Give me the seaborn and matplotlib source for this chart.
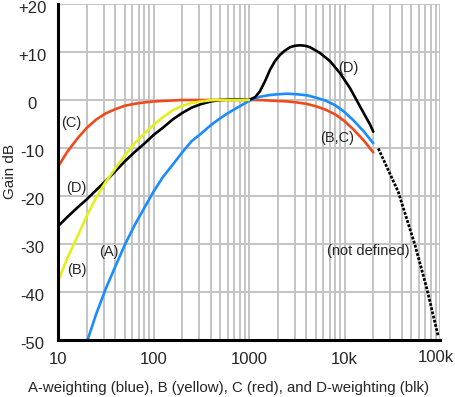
import seaborn as sns
import matplotlib
matplotlib.use("Agg")
import matplotlib.pyplot as plt
from matplotlib.ticker import FixedLocator, NullFormatter
from matplotlib.transforms import ScaledTranslation

# third-octave centre frequencies (Hz)
freq = [10, 12.5, 16, 20, 25, 31.5, 40, 50, 63, 80, 100, 125, 160, 200, 250,
        315, 400, 500, 630, 800, 1000, 1250, 1600, 2000, 2500, 3150, 4000,
        5000, 6300, 8000, 10000, 12500, 16000, 20000]

# A-weighting starts at 20 Hz (below -50 dB before that)
a_freq = freq[3:]
a_gain = [-50.5, -44.7, -39.4, -34.6, -30.2, -26.2, -22.5, -19.1, -16.1, -13.4,
          -10.9, -8.6, -7.0, -5.2, -3.8, -2.5, -1.3, -0.2, 0.6, 1.0, 1.2, 1.3,
          1.2, 1.0, 0.5, -0.1, -1.1, -2.5, -4.3, -6.6, -9.0]

# B-weighting only visible up to 1 kHz (hidden under C above)
b_freq = freq[:21]
b_gain = [-37.8, -33.0, -28.4, -24.2, -20.4, -17.1, -14.2, -11.6, -9.1, -7.0,
          -5.2, -3.6, -2.1, -1.2, -0.65, -0.3, -0.05, 0.0, 0.0, 0.0, 0.0]

c_gain = [-13.9, -10.8, -8.0, -5.8, -4.1, -2.8, -1.9, -1.2, -0.8, -0.5, -0.3,
          -0.2, -0.1, 0.0, 0.0, 0.0, 0.0, 0.0, 0.0, 0.0, 0.0, 0.0, -0.1, -0.2,
          -0.3, -0.5, -0.8, -1.3, -2.0, -3.0, -4.4, -6.2, -8.5, -10.9]

# D-weighting, read more densely around the 3 kHz hump
d_freq = [10, 12.5, 16, 20, 25, 31.5, 40, 50, 63, 80, 100, 125, 160, 200, 250,
          315, 400, 500, 630, 800, 1000, 1160, 1300, 1470, 1660, 1870, 2110,
          2380, 2690, 3030, 3420, 3860, 4350, 5530, 7050, 8970, 11400, 14500,
          18500, 20000]
d_gain = [-26.3, -24.4, -22.4, -20.7, -18.8, -16.9, -14.8, -12.8, -10.9, -9.1,
          -7.3, -5.8, -4.0, -2.7, -1.6, -0.85, -0.3, 0.0, 0.1, 0.1, 0.0, 0.6,
          1.8, 3.9, 6.3, 8.1, 9.4, 10.3, 11.0, 11.3, 11.4, 11.3, 11.0, 9.8, 8.1,
          5.6, 2.5, -1.3, -5.1, -6.6]

# dotted "not defined" tail
nd_freq = [22600, 36500, 54700, 72600, 96000]
nd_gain = [-10.1, -19.1, -30.2, -39.2, -49.3]

x_ticks = [10, 100, 1000, 10000, 100000]
x_labels = ["10", "100", "1000", "10k", "100k"]
y_ticks = [20, 10, 0, -10, -20, -30, -40, -50]
y_labels = ["+20", "+10", "0", "-10", "-20", "-30", "-40", "-50"]

sns.set_theme(style="white")
plt.rcParams["font.family"] = ["Liberation Sans", "DejaVu Sans"]

fig = plt.figure(figsize=(4.56, 3.97), dpi=100)
ax = fig.add_axes([58 / 456, 1 - 340 / 397, 382 / 456, 336 / 397])
ax.set_xscale("log")

lw = 1.9
sns.lineplot(x=freq, y=c_gain, ax=ax, color="#EE4A1E", lw=lw, sort=False)
sns.lineplot(x=a_freq, y=a_gain, ax=ax, color="#1A8CFF", lw=lw, sort=False)
sns.lineplot(x=d_freq, y=d_gain, ax=ax, color="black", lw=lw, sort=False)
sns.lineplot(x=b_freq, y=b_gain, ax=ax, color="#E4F01C", lw=lw, sort=False)
sns.lineplot(x=nd_freq, y=nd_gain, ax=ax, color="black", lw=2.0,
             linestyle=(0, (1, 0.55)), sort=False)

ax.set_xlim(10, 100000)
ax.set_ylim(-50, 20)

ax.xaxis.set_major_locator(FixedLocator(x_ticks))
minor = [m * 10 ** k for k in range(1, 5) for m in range(2, 10)]
ax.xaxis.set_minor_locator(FixedLocator(minor))
ax.xaxis.set_minor_formatter(NullFormatter())
ax.set_xticklabels(x_labels, fontsize=12)
ax.set_yticks(y_ticks)
ax.set_yticklabels(y_labels, fontsize=12)
ax.tick_params(axis="y", length=0, pad=18.5)
ax.tick_params(axis="x", which="both", length=0, pad=9)

# labels in the original sit a little below their grid lines
down = ScaledTranslation(0, -3 / 100, fig.dpi_scale_trans)
for lab in ax.get_yticklabels():
    lab.set_horizontalalignment("center")
    lab.set_transform(lab.get_transform() + down)
last = ax.get_xticklabels()[-1]
last.set_transform(last.get_transform() + ScaledTranslation(-4 / 100, 2 / 100, fig.dpi_scale_trans))

ax.grid(True, axis="x", which="both", color="#C4C4C4", lw=1.4)
ax.grid(True, axis="y", which="major", color="#C4C4C4", lw=1.4)
ax.set_axisbelow(True)

for side in ["top", "right"]:
    ax.spines[side].set_visible(False)
for side in ["left", "bottom"]:
    ax.spines[side].set_color("black")
    ax.spines[side].set_linewidth(2.2)
    ax.spines[side].set_zorder(5)

ax.set_ylabel("Gain dB", fontsize=11)
ax.yaxis.set_label_coords(-0.107, 0.5)
ax.set_xlabel("A-weighting (blue), B (yellow), C (red), and D-weighting (blk)",
              fontsize=10.8)
ax.xaxis.set_label_coords(0.446, -0.122)

fs = 10.5
ax.text(13.9, -4.85, "(C)", fontsize=fs, ha="center", va="center")
ax.text(15.7, -18.4, "(D)", fontsize=fs, ha="center", va="center")
ax.text(15.7, -35.4, "(B)", fontsize=fs, ha="center", va="center")
ax.text(33.7, -31.6, "(A)", fontsize=fs, ha="center", va="center")
ax.text(10900, 6.6, "(D)", fontsize=fs, ha="center", va="center")
ax.text(8280, -8.0, "(B,C)", fontsize=fs, ha="center", va="center")
ax.text(17700, -31.4, "(not defined)", fontsize=fs, ha="center", va="center")

fig.savefig("out.png", dpi=100)
